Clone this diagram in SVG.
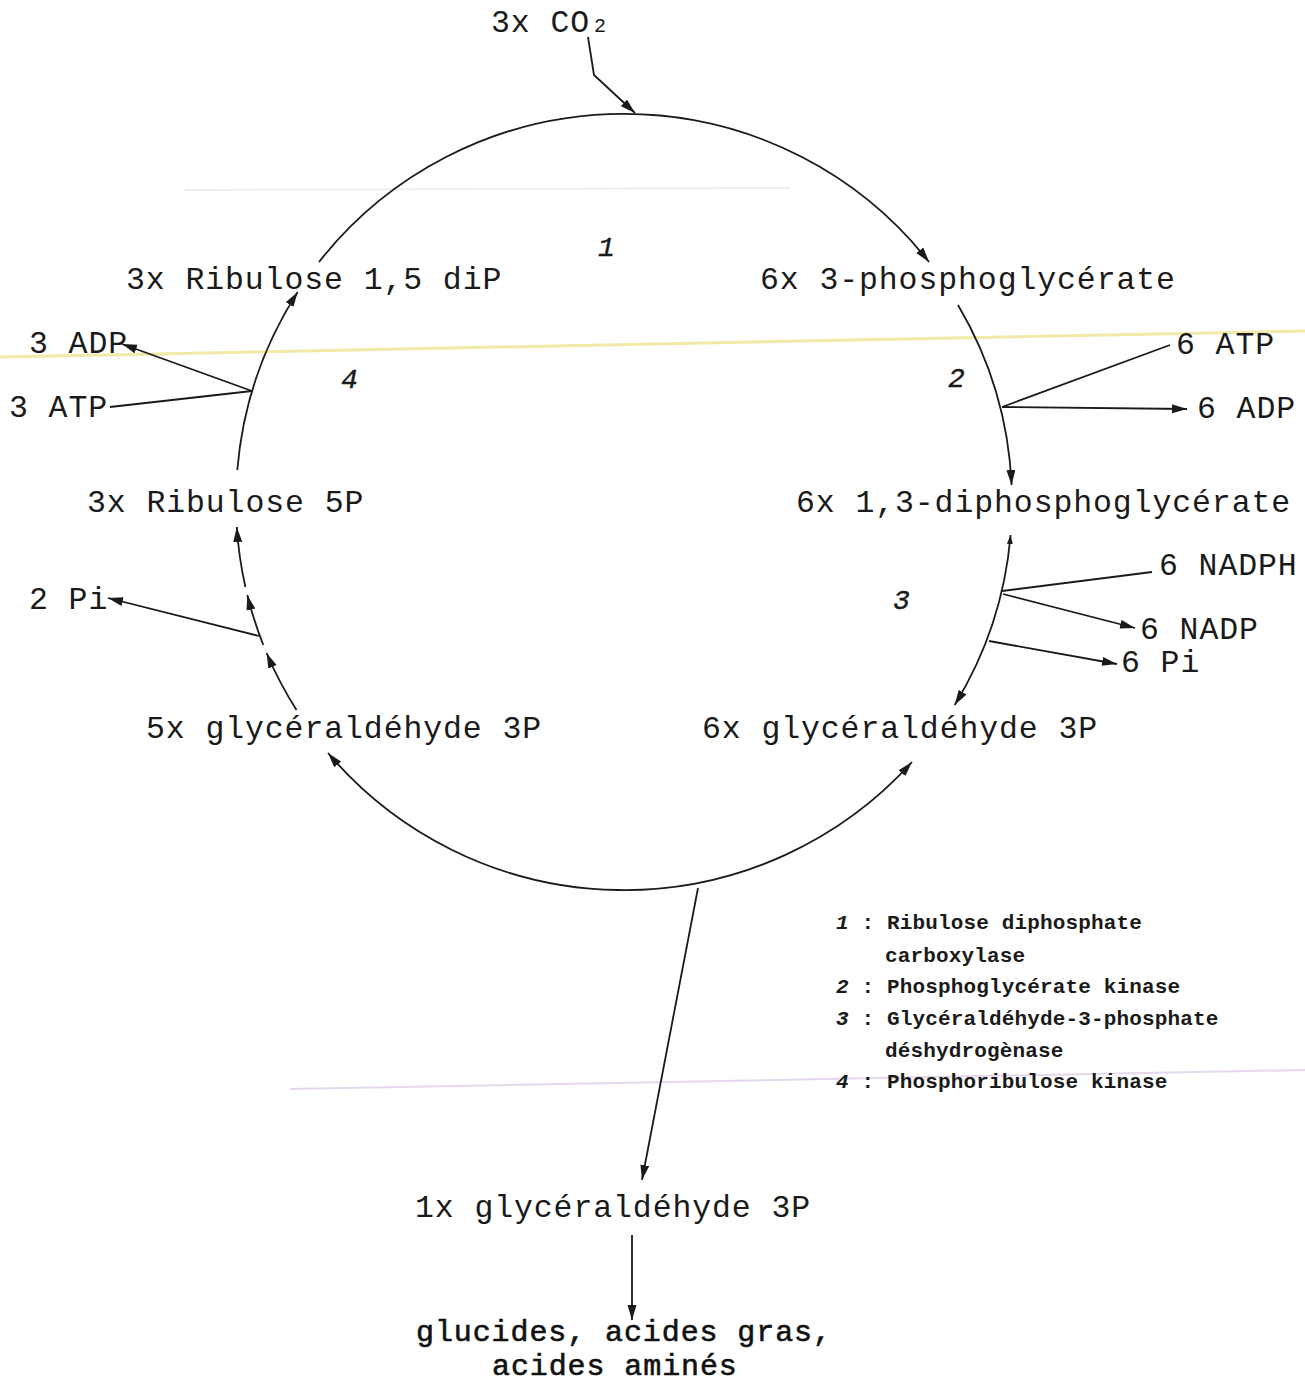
<svg xmlns="http://www.w3.org/2000/svg" width="1305" height="1383" viewBox="0 0 1305 1383">
<style>
.t{font-family:"Liberation Mono","DejaVu Sans Mono",monospace;font-size:31.5px;letter-spacing:0.9px;fill:#1a1a1a}
.b{font-family:"Liberation Mono","DejaVu Sans Mono",monospace;font-size:30px;letter-spacing:0.9px;fill:#111;stroke:#111;stroke-width:0.6}
.n{font-family:"Liberation Mono","DejaVu Sans Mono",monospace;font-size:28px;font-style:italic;fill:#1a1a1a;stroke:#1a1a1a;stroke-width:0.4}
.lg{font-family:"Liberation Mono","DejaVu Sans Mono",monospace;font-size:21px;font-weight:bold;letter-spacing:0.15px;fill:#1a1a1a}
.lgn{font-style:italic}
.c{fill:none;stroke:#1a1a1a;stroke-width:1.8}
.a{marker-end:url(#ah)}
.scan{fill:none}
</style>
<defs>
<marker id="ah" markerUnits="userSpaceOnUse" markerWidth="16" markerHeight="10" refX="15" refY="4.5" orient="auto-start-reverse" viewBox="0 0 16 10">
<path d="M0,0 L15,4.5 L0,9 z" fill="#1a1a1a"/>
</marker>
<marker id="sm" markerUnits="userSpaceOnUse" markerWidth="10" markerHeight="6" refX="9" refY="3" orient="auto-start-reverse" viewBox="0 0 10 6">
<path d="M0,0 L9,3 L0,6 z" fill="#1a1a1a"/>
</marker>
</defs>
<rect width="1305" height="1383" fill="#ffffff"/>
<g id="scan-marks">
<line class="scan" x1="0" y1="357" x2="1305" y2="331" stroke="#f1e9a8" stroke-width="3"/>
<line class="scan" x1="185" y1="190" x2="790" y2="188" stroke="#eeeeee" stroke-width="2"/>
<line class="scan" x1="290" y1="1089" x2="1305" y2="1070" stroke="#e6d8ec" stroke-width="2"/>
</g>
<g id="connectors">
<path class="c a" d="M319,262 A388,388 0 0,1 929,262"/>
<polyline class="c a" points="588,37 594,75 635,113"/>
<path class="c a" d="M958,305 A388,388 0 0,1 1011.6,485"/>
<path class="c" d="M1010.6,535 A388,388 0 0,1 954.7,705" marker-start="url(#sm)" marker-end="url(#ah)"/>
<path class="c" d="M912,762 A388,388 0 0,1 328,753" marker-start="url(#ah)" marker-end="url(#ah)"/>
<path class="c a" d="M296.5,710 A388,388 0 0,1 266.6,653"/>
<path class="c a" d="M263.3,645 A388,388 0 0,1 247.3,595"/>
<path class="c a" d="M245.4,587 A388,388 0 0,1 236.8,527"/>
<path class="c a" d="M237.3,470 A388,388 0 0,1 297.7,292"/>
<line class="c" x1="1002" y1="407" x2="1170" y2="345"/>
<line class="c a" x1="1002" y1="407" x2="1187" y2="409"/>
<line class="c" x1="110" y1="407" x2="252" y2="391"/>
<line class="c a" x1="252" y1="391" x2="122" y2="344"/>
<line class="c" x1="1002" y1="591" x2="1152" y2="572"/>
<line class="c a" x1="1003" y1="594" x2="1135" y2="628"/>
<line class="c a" x1="989" y1="641" x2="1117" y2="664"/>
<line class="c a" x1="259" y1="636" x2="108" y2="598"/>
<line class="c a" x1="698" y1="888" x2="642" y2="1180"/>
<line class="c a" x1="632" y1="1235" x2="632" y2="1320"/>
</g>
<g id="node-co2"><text class="t" x="491" y="32">3x  CO<tspan font-size="20" dx="4">2</tspan></text></g>
<g id="node-rudp"><text class="t" x="126" y="289">3x  Ribulose 1,5 diP</text></g>
<g id="node-3pg"><text class="t" x="760" y="289">6x  3-phosphoglycérate</text></g>
<g id="node-bpg"><text class="t" x="796" y="512">6x  1,3-diphosphoglycérate</text></g>
<g id="node-ru5p"><text class="t" x="87" y="512">3x  Ribulose 5P</text></g>
<g id="node-g3p5"><text class="t" x="146" y="738">5x  glycéraldéhyde 3P</text></g>
<g id="node-g3p6"><text class="t" x="702" y="738">6x  glycéraldéhyde 3P</text></g>
<g id="node-g3p1"><text class="t" x="415" y="1217">1x  glycéraldéhyde 3P</text></g>
<g id="node-products">
<text class="b" x="416" y="1341">glucides, acides gras,</text>
<text class="b" x="492" y="1375">acides aminés</text>
</g>
<g id="node-cofactors">
<text class="t" x="29" y="353">3 ADP</text>
<text class="t" x="9" y="417">3 ATP</text>
<text class="t" x="1176" y="354">6 ATP</text>
<text class="t" x="1197" y="418">6 ADP</text>
<text class="t" x="1159" y="575">6 NADPH</text>
<text class="t" x="1140" y="639">6 NADP</text>
<text class="t" x="1121" y="672">6 Pi</text>
<text class="t" x="29" y="609">2 Pi</text>
</g>
<g id="node-enzyme-numbers">
<text class="n" x="598" y="256">1</text>
<text class="n" x="948" y="387">2</text>
<text class="n" x="893" y="609">3</text>
<text class="n" x="341" y="388">4</text>
</g>
<g id="legend">
<text class="lg" x="836" y="929"><tspan class="lgn">1</tspan> : Ribulose diphosphate</text>
<text class="lg" x="885" y="962">carboxylase</text>
<text class="lg" x="836" y="993"><tspan class="lgn">2</tspan> : Phosphoglycérate kinase</text>
<text class="lg" x="836" y="1025"><tspan class="lgn">3</tspan> : Glycéraldéhyde-3-phosphate</text>
<text class="lg" x="885" y="1057">déshydrogènase</text>
<text class="lg" x="836" y="1088"><tspan class="lgn">4</tspan> : Phosphoribulose kinase</text>
</g>
</svg>
